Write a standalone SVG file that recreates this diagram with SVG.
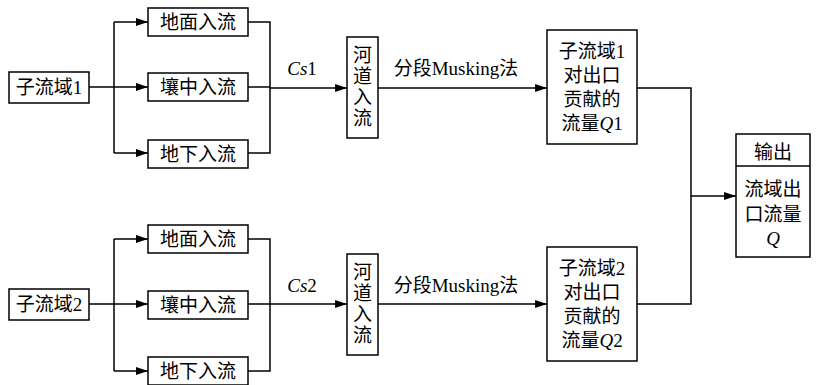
<svg xmlns="http://www.w3.org/2000/svg" width="818" height="385" viewBox="0 0 818 385">
<defs>
<marker id="arr" markerWidth="12" markerHeight="8" refX="12" refY="4" orient="auto" markerUnits="userSpaceOnUse">
<path d="M0,0 L12,4 L0,8 z" fill="#000"/>
</marker>
<style>
.box{fill:#fff;stroke:#000;stroke-width:1.5}
.t{font-family:"Liberation Serif","Noto Sans CJK SC",serif;font-size:19px;fill:#000;text-anchor:middle}
.ln{fill:none;stroke:#000;stroke-width:1.5}
.arr{marker-end:url(#arr)}
.i{font-style:italic}
</style>
</defs>
<rect width="818" height="385" fill="#fff"/>
<g id="connectors">
<path class="ln" d="M89,87 H114 M114,22 V153"/>
<path class="ln arr" d="M114,22 H148"/>
<path class="ln arr" d="M114,87 H148"/>
<path class="ln arr" d="M114,153 H148"/>
<path class="ln" d="M248,22 H270 V153 H248 M248,87 H270"/>
<path class="ln arr" d="M270,88 H347"/>
<path class="ln arr" d="M378,88 H547"/>
<path class="ln" d="M89,304 H114 M114,239 V371"/>
<path class="ln arr" d="M114,239 H148"/>
<path class="ln arr" d="M114,304 H148"/>
<path class="ln arr" d="M114,371 H148"/>
<path class="ln" d="M248,239 H270 V371 H248 M248,304 H270"/>
<path class="ln arr" d="M270,304 H347"/>
<path class="ln arr" d="M378,304 H547"/>
<path class="ln" d="M637,88 H691 V304 H637"/>
<path class="ln arr" d="M691,196 H736"/>
<text class="t" x="302" y="75"><tspan class="i">Cs</tspan>1</text>
<text class="t" x="456" y="75">分段Musking法</text>
<text class="t" x="302" y="292"><tspan class="i">Cs</tspan>2</text>
<text class="t" x="456" y="292">分段Musking法</text>
</g>
<g id="sub1"><rect class="box" x="9" y="72" width="80" height="31"/><text class="t" x="49" y="94">子流域1</text></g>
<g id="surf1"><rect class="box" x="148" y="8" width="100" height="28"/><text class="t" x="198" y="29">地面入流</text></g>
<g id="inter1"><rect class="box" x="148" y="73" width="100" height="28"/><text class="t" x="198" y="94">壤中入流</text></g>
<g id="ground1"><rect class="box" x="148" y="140" width="100" height="28"/><text class="t" x="198" y="161">地下入流</text></g>
<g id="river1"><rect class="box" x="347" y="37" width="31" height="101"/>
<text class="t" x="362.5" y="62">河</text><text class="t" x="362.5" y="83">道</text><text class="t" x="362.5" y="104">入</text><text class="t" x="362.5" y="125">流</text></g>
<g id="contrib1"><rect class="box" x="547" y="30" width="90" height="114"/>
<text class="t" x="592" y="58">子流域1</text><text class="t" x="592" y="82">对出口</text><text class="t" x="592" y="106">贡献的</text><text class="t" x="592" y="130">流量<tspan class="i">Q</tspan>1</text></g>
<g id="sub2"><rect class="box" x="9" y="289" width="80" height="31"/><text class="t" x="49" y="311">子流域2</text></g>
<g id="surf2"><rect class="box" x="148" y="225" width="100" height="28"/><text class="t" x="198" y="246">地面入流</text></g>
<g id="inter2"><rect class="box" x="148" y="291" width="100" height="28"/><text class="t" x="198" y="312">壤中入流</text></g>
<g id="ground2"><rect class="box" x="148" y="357" width="100" height="28"/><text class="t" x="198" y="378">地下入流</text></g>
<g id="river2"><rect class="box" x="347" y="254" width="31" height="101"/>
<text class="t" x="362.5" y="279">河</text><text class="t" x="362.5" y="300">道</text><text class="t" x="362.5" y="321">入</text><text class="t" x="362.5" y="342">流</text></g>
<g id="contrib2"><rect class="box" x="547" y="247" width="90" height="114"/>
<text class="t" x="592" y="275">子流域2</text><text class="t" x="592" y="299">对出口</text><text class="t" x="592" y="323">贡献的</text><text class="t" x="592" y="347">流量<tspan class="i">Q</tspan>2</text></g>
<g id="output"><rect class="box" x="736" y="134" width="74" height="123"/><path class="ln" d="M736,166 H810"/>
<text class="t" x="773" y="159">输出</text><text class="t" x="773" y="196">流域出</text><text class="t" x="773" y="221">口流量</text><text class="t i" x="773" y="245">Q</text></g>
</svg>
